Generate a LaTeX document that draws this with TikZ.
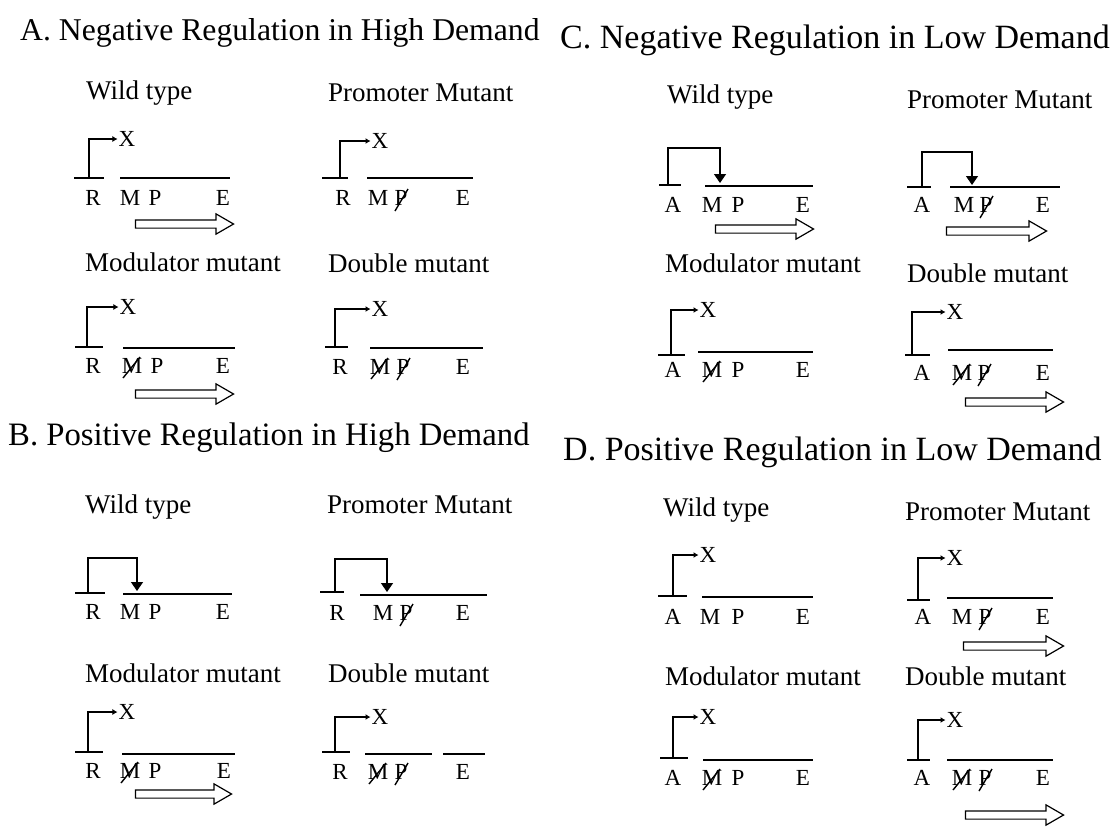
\documentclass[tikz,border=0pt]{standalone}
\usepackage{fontspec}
\setmainfont{Liberation Serif}
\usetikzlibrary{arrows.meta,shapes.arrows}

\begin{document}
\begin{tikzpicture}[x=1pt,y=-1pt,
  head/.style={font=\fontsize{#1}{34}\selectfont,anchor=west,inner sep=0pt},
  sub/.style={font=\fontsize{27}{29}\selectfont,anchor=west,inner sep=0pt},
  lbl/.style={font=\fontsize{23}{25}\selectfont,inner sep=1pt},
  gene/.style={line width=1.6pt},
  reg/.style={line width=1.4pt,-{Latex[length=5pt,width=6pt]}},
  act/.style={line width=1.4pt,-{Triangle[length=9pt,width=12pt]}},
  slash/.style={line width=1.4pt},
  hollow/.style={single arrow,draw,line width=1.2pt,minimum width=19pt,single arrow head extend=6pt,single arrow tip angle=60,inner sep=3.5pt}
]
  \fill[white] (0,0) rectangle (1115,831);
  \useasboundingbox (0,0) rectangle (1115,831);

  \node[head=31.7] (ha) at (20,33) {A. Negative Regulation in High Demand};
  \node[head=34] (hc) at (560,40) {C. Negative Regulation in Low Demand};
  \node[head=32.7] (hb) at (8,438) {B. Positive Regulation in High Demand};
  \node[head=34] (hd) at (563,452) {D. Positive Regulation in Low Demand};

  % A
  \node[sub] (aw-t) at (86,93) {Wild type};
  \coordinate (aw-r) at (89,178);
  \node[lbl] (aw-x) at (127,139) {X};
  \draw[gene] (74,178) -- (104,178);
  \draw[gene] (120,178) -- (230,178);
  \draw[reg] (aw-r) |- (aw-x);
  \node[lbl] (aw-R) at (93,198) {R};
  \node[lbl] (aw-M) at (130,198) {M};
  \node[lbl] (aw-P) at (155,198) {P};
  \node[lbl] (aw-E) at (223,198) {E};
  \node[hollow,minimum height=98pt] (aw-h) at (181,224) {};

  \node[sub] (ap-t) at (328,93) {Promoter Mutant};
  \coordinate (ap-r) at (340,178);
  \node[lbl] (ap-x) at (380,141) {X};
  \draw[gene] (322,178) -- (348,178);
  \draw[gene] (367,178) -- (473,178);
  \draw[reg] (ap-r) |- (ap-x);
  \node[lbl] (ap-R) at (343,198) {R};
  \node[lbl] (ap-M) at (378,198) {M};
  \node[lbl] (ap-P) at (401,198) {P};
  \node[lbl] (ap-E) at (463,198) {E};
  \draw[slash] ([shift={(-6,13)}]ap-P.center) -- ([shift={(7,-9)}]ap-P.center);

  \node[sub] (am-t) at (85,262) {Modulator mutant};
  \coordinate (am-r) at (87,347);
  \node[lbl] (am-x) at (128,307) {X};
  \draw[gene] (75,347) -- (103,347);
  \draw[gene] (123,348) -- (235,348);
  \draw[reg] (am-r) |- (am-x);
  \node[lbl] (am-R) at (93,366) {R};
  \node[lbl] (am-M) at (132,366) {M};
  \node[lbl] (am-P) at (157,366) {P};
  \node[lbl] (am-E) at (223,366) {E};
  \draw[slash] ([shift={(-9,12)}]am-M.center) -- ([shift={(8,-9)}]am-M.center);
  \node[hollow,minimum height=98pt] (am-h) at (181,394) {};

  \node[sub] (ad-t) at (328,263) {Double mutant};
  \coordinate (ad-r) at (335,347);
  \node[lbl] (ad-x) at (380,309) {X};
  \draw[gene] (325,347) -- (348,347);
  \draw[gene] (370,348) -- (483,348);
  \draw[reg] (ad-r) |- (ad-x);
  \node[lbl] (ad-R) at (340,367) {R};
  \node[lbl] (ad-M) at (380,367) {M};
  \node[lbl] (ad-P) at (403,367) {P};
  \node[lbl] (ad-E) at (463,367) {E};
  \draw[slash] ([shift={(-9,12)}]ad-M.center) -- ([shift={(8,-9)}]ad-M.center);
  \draw[slash] ([shift={(-6,13)}]ad-P.center) -- ([shift={(7,-9)}]ad-P.center);

  % C
  \node[sub] (cw-t) at (667,97) {Wild type};
  \coordinate (cw-r) at (668,185);
  \coordinate (cw-a) at (720,183);
  \draw[gene] (659,185) -- (681,185);
  \draw[gene] (705,186) -- (813,186);
  \draw[act] (cw-r) -- ++(0,-37) -| (cw-a);
  \node[lbl] (cw-A) at (673,205) {A};
  \node[lbl] (cw-M) at (712,205) {M};
  \node[lbl] (cw-P) at (738,205) {P};
  \node[lbl] (cw-E) at (803,205) {E};
  \node[hollow,minimum height=98pt] (cw-h) at (761,229) {};

  \node[sub] (cp-t) at (907,100) {Promoter Mutant};
  \coordinate (cp-r) at (922,187);
  \coordinate (cp-a) at (972,185);
  \draw[gene] (907,187) -- (931,187);
  \draw[gene] (950,187) -- (1060,187);
  \draw[act] (cp-r) -- ++(0,-35) -| (cp-a);
  \node[lbl] (cp-A) at (922,205) {A};
  \node[lbl] (cp-M) at (964,205) {M};
  \node[lbl] (cp-P) at (986,205) {P};
  \node[lbl] (cp-E) at (1043,205) {E};
  \draw[slash] ([shift={(-6,13)}]cp-P.center) -- ([shift={(7,-9)}]cp-P.center);
  \node[hollow,minimum height=100pt] (cp-h) at (993,231) {};

  \node[sub] (cm-t) at (665,263) {Modulator mutant};
  \coordinate (cm-r) at (671,355);
  \node[lbl] (cm-x) at (708,310) {X};
  \draw[gene] (658,355) -- (685,355);
  \draw[gene] (698,352) -- (813,352);
  \draw[reg] (cm-r) |- (cm-x);
  \node[lbl] (cm-A) at (673,370) {A};
  \node[lbl] (cm-M) at (712,370) {M};
  \node[lbl] (cm-P) at (738,370) {P};
  \node[lbl] (cm-E) at (803,370) {E};
  \draw[slash] ([shift={(-9,12)}]cm-M.center) -- ([shift={(8,-9)}]cm-M.center);

  \node[sub] (cd-t) at (907,273) {Double mutant};
  \coordinate (cd-r) at (912,355);
  \node[lbl] (cd-x) at (955,312) {X};
  \draw[gene] (905,355) -- (930,355);
  \draw[gene] (948,350) -- (1053,350);
  \draw[reg] (cd-r) |- (cd-x);
  \node[lbl] (cd-A) at (922,373) {A};
  \node[lbl] (cd-M) at (962,373) {M};
  \node[lbl] (cd-P) at (984,373) {P};
  \node[lbl] (cd-E) at (1043,373) {E};
  \draw[slash] ([shift={(-9,12)}]cd-M.center) -- ([shift={(8,-9)}]cd-M.center);
  \draw[slash] ([shift={(-6,13)}]cd-P.center) -- ([shift={(7,-9)}]cd-P.center);
  \node[hollow,minimum height=98pt] (cd-h) at (1011,402) {};

  % B
  \node[sub] (bw-t) at (85,507) {Wild type};
  \coordinate (bw-r) at (88,593);
  \coordinate (bw-a) at (137,591);
  \draw[gene] (75,593) -- (105,593);
  \draw[gene] (123,594) -- (232,594);
  \draw[act] (bw-r) -- ++(0,-35) -| (bw-a);
  \node[lbl] (bw-R) at (93,612) {R};
  \node[lbl] (bw-M) at (130,612) {M};
  \node[lbl] (bw-P) at (155,612) {P};
  \node[lbl] (bw-E) at (223,612) {E};

  \node[sub] (bp-t) at (327,505) {Promoter Mutant};
  \coordinate (bp-r) at (335,592);
  \coordinate (bp-a) at (387,592);
  \draw[gene] (320,592) -- (344,592);
  \draw[gene] (360,595) -- (487,595);
  \draw[act] (bp-r) -- ++(0,-33) -| (bp-a);
  \node[lbl] (bp-R) at (337,613) {R};
  \node[lbl] (bp-M) at (383,613) {M};
  \node[lbl] (bp-P) at (406,613) {P};
  \node[lbl] (bp-E) at (463,613) {E};
  \draw[slash] ([shift={(-6,13)}]bp-P.center) -- ([shift={(7,-9)}]bp-P.center);

  \node[sub] (bm-t) at (85,673) {Modulator mutant};
  \coordinate (bm-r) at (88,752);
  \node[lbl] (bm-x) at (127,712) {X};
  \draw[gene] (75,752) -- (103,752);
  \draw[gene] (122,754) -- (235,754);
  \draw[reg] (bm-r) |- (bm-x);
  \node[lbl] (bm-R) at (93,771) {R};
  \node[lbl] (bm-M) at (130,771) {M};
  \node[lbl] (bm-P) at (155,771) {P};
  \node[lbl] (bm-E) at (224,771) {E};
  \draw[slash] ([shift={(-9,12)}]bm-M.center) -- ([shift={(8,-9)}]bm-M.center);
  \node[hollow,minimum height=96pt] (bm-h) at (180,794) {};

  \node[sub] (bd-t) at (328,673) {Double mutant};
  \coordinate (bd-r) at (335,752);
  \node[lbl] (bd-x) at (380,717) {X};
  \draw[gene] (322,752) -- (350,752);
  \draw[gene] (365,754) -- (432,754);
  \draw[gene] (443,754) -- (485,754);
  \draw[reg] (bd-r) |- (bd-x);
  \node[lbl] (bd-R) at (340,772) {R};
  \node[lbl] (bd-M) at (378,772) {M};
  \node[lbl] (bd-P) at (401,772) {P};
  \node[lbl] (bd-E) at (463,772) {E};
  \draw[slash] ([shift={(-9,12)}]bd-M.center) -- ([shift={(8,-9)}]bd-M.center);
  \draw[slash] ([shift={(-6,13)}]bd-P.center) -- ([shift={(7,-9)}]bd-P.center);

  % D
  \node[sub] (dw-t) at (663,510) {Wild type};
  \coordinate (dw-r) at (673,596);
  \node[lbl] (dw-x) at (708,555) {X};
  \draw[gene] (658,596) -- (687,596);
  \draw[gene] (702,597) -- (813,597);
  \draw[reg] (dw-r) |- (dw-x);
  \node[lbl] (dw-A) at (673,617) {A};
  \node[lbl] (dw-M) at (710,617) {M};
  \node[lbl] (dw-P) at (738,617) {P};
  \node[lbl] (dw-E) at (803,617) {E};

  \node[sub] (dp-t) at (905,512) {Promoter Mutant};
  \coordinate (dp-r) at (918,600);
  \node[lbl] (dp-x) at (955,558) {X};
  \draw[gene] (907,600) -- (930,600);
  \draw[gene] (947,598) -- (1053,598);
  \draw[reg] (dp-r) |- (dp-x);
  \node[lbl] (dp-A) at (923,617) {A};
  \node[lbl] (dp-M) at (962,617) {M};
  \node[lbl] (dp-P) at (985,617) {P};
  \node[lbl] (dp-E) at (1043,617) {E};
  \draw[slash] ([shift={(-6,13)}]dp-P.center) -- ([shift={(7,-9)}]dp-P.center);
  \node[hollow,minimum height=100pt] (dp-h) at (1010,646) {};

  \node[sub] (dm-t) at (665,676) {Modulator mutant};
  \coordinate (dm-r) at (673,758);
  \node[lbl] (dm-x) at (708,717) {X};
  \draw[gene] (660,758) -- (688,758);
  \draw[gene] (703,760) -- (813,760);
  \draw[reg] (dm-r) |- (dm-x);
  \node[lbl] (dm-A) at (673,778) {A};
  \node[lbl] (dm-M) at (712,778) {M};
  \node[lbl] (dm-P) at (738,778) {P};
  \node[lbl] (dm-E) at (803,778) {E};
  \draw[slash] ([shift={(-9,12)}]dm-M.center) -- ([shift={(8,-9)}]dm-M.center);

  \node[sub] (dd-t) at (905,676) {Double mutant};
  \coordinate (dd-r) at (918,760);
  \node[lbl] (dd-x) at (955,720) {X};
  \draw[gene] (907,760) -- (930,760);
  \draw[gene] (947,760) -- (1053,760);
  \draw[reg] (dd-r) |- (dd-x);
  \node[lbl] (dd-A) at (922,778) {A};
  \node[lbl] (dd-M) at (962,778) {M};
  \node[lbl] (dd-P) at (985,778) {P};
  \node[lbl] (dd-E) at (1043,778) {E};
  \draw[slash] ([shift={(-9,12)}]dd-M.center) -- ([shift={(8,-9)}]dd-M.center);
  \draw[slash] ([shift={(-6,13)}]dd-P.center) -- ([shift={(7,-9)}]dd-P.center);
  \node[hollow,minimum height=98pt] (dd-h) at (1011,815) {};
\end{tikzpicture}
\end{document}
